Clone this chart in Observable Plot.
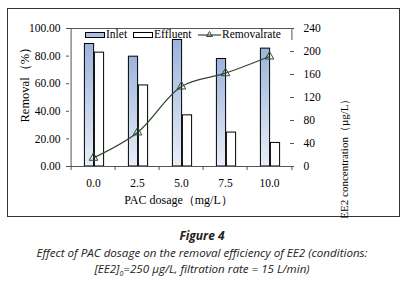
<!DOCTYPE html>
<html>
<head>
<meta charset="utf-8">
<script src="https://cdn.jsdelivr.net/npm/d3@7"></script>
<script src="https://cdn.jsdelivr.net/npm/@observablehq/plot@0.6"></script>
<style>
  html, body { margin: 0; padding: 0; background: #fff; }
  #wrap { position: relative; width: 404px; height: 289px; }
  #box { position: absolute; left: 7px; top: 8px; width: 393px; height: 209px; border: 1px solid #333; box-sizing: border-box; }
  #chart { position: absolute; left: 0; top: 0; }
  .legend { position: absolute; top: 28px; height: 12px; font-family: "Liberation Serif", serif; font-size: 11.5px; line-height: 12px; color: #000; white-space: nowrap; }
  .caption { position: absolute; left: 0; width: 404px; text-align: center; font-family: "Open Sans", sans-serif; font-style: italic; color: #222; white-space: nowrap; }
</style>
</head>
<body>
<div id="wrap">
  <div id="box"></div>
  <div id="chart"></div>
  <div class="caption" style="top:228px;font-size:12px;line-height:16px;font-weight:700;">Figure 4</div>
  <div class="caption" style="top:244.5px;font-size:11.6px;line-height:15px;">Effect of PAC dosage on the removal efficiency of EE2 (conditions:</div>
  <div class="caption" style="top:260.5px;font-size:11.6px;line-height:15px;">[EE2]<sub style="font-size:7px;line-height:0;">0</sub>=250 µg/L, filtration rate = 15 L/min)</div>
</div>
<script>
// ---- data ----
const doses = ["0.0", "2.5", "5.0", "7.5", "10.0"];
const inlet = [213, 191, 220, 187, 205];      // µg/L (right axis)
const effluent = [198, 141, 89, 59, 41];       // µg/L (right axis)
const removal = [6.3, 24.7, 58, 67.6, 79.7];  // % (left axis)
const leftTicks = [0, 20, 40, 60, 80, 100];
const rightTicks = [0, 40, 80, 120, 160, 200, 240];
const seriesNames = ["Inlet", "Effluent", "Removalrate"];

const rows = doses.map((d, i) => ({dose: d, inlet: inlet[i], effluent: effluent[i], removal: removal[i]}));
const k = 240 / 100; // right axis units per left axis unit

const lineColor = "#2f4a2f";
const serif = "Liberation Serif, Times New Roman, serif";

const defs = () => {
  const ns = "http://www.w3.org/2000/svg";
  const d = document.createElementNS(ns, "defs");
  d.innerHTML = `<linearGradient id="blueGrad" x1="0" y1="0" x2="0" y2="1">
      <stop offset="0" stop-color="#9cb3dc"/>
      <stop offset="1" stop-color="#e9eef8"/>
    </linearGradient>`;
  return d;
};

const half = 22.4;

const plot = Plot.plot({
  width: 404,
  height: 220,
  marginLeft: 69,
  marginRight: 111,
  marginTop: 28,
  marginBottom: 54,
  style: {fontFamily: serif, fontSize: "11.5px", color: "#000", background: "transparent"},
  x: {type: "band", domain: doses, padding: 0, label: null},
  y: {domain: [0, 100], label: null},
  marks: [
    defs,
    Plot.barY(rows, {x: "dose", y: d => d.inlet / k, fill: "url(#blueGrad)", stroke: "#000", strokeWidth: 1, insetLeft: half - 9, insetRight: half - 1}),
    Plot.barY(rows, {x: "dose", y: d => d.effluent / k, fill: "#fff", stroke: "#000", strokeWidth: 1, insetLeft: half + 1, insetRight: half - 11}),
    Plot.ruleY([0], {stroke: "#555"}),
    Plot.ruleY([100], {stroke: "#555"}),
    Plot.ruleX([doses[0]], {dx: -half, y1: 0, y2: 100, stroke: "#555"}),
    Plot.ruleX([doses[doses.length - 1]], {dx: half, y1: 100, y2: 100, insetBottom: -12, stroke: "#555"}),
    Plot.ruleX(doses, {dx: -half, y1: 0, y2: 0, insetBottom: -4, stroke: "#555"}),
    Plot.ruleX([doses[doses.length - 1]], {dx: half, y1: 0, y2: 0, insetBottom: -4, stroke: "#555"}),
    Plot.line(rows, {x: "dose", y: "removal", curve: "catmull-rom", stroke: lineColor, strokeWidth: 1.3}),
    Plot.dot(rows, {x: "dose", y: "removal", symbol: "triangle", r: 3.2, stroke: lineColor, fill: "none", strokeWidth: 1}),
    Plot.axisY(leftTicks, {anchor: "left", tickSize: 3, tickPadding: 6, tickFormat: d3.format(".2f"), label: null, stroke: "#555"}),
    Plot.axisY(rightTicks.map(v => v / k), {anchor: "right", tickSize: 4, dx: -4, tickPadding: 10, tickFormat: v => String(Math.round(v * k)), label: null, stroke: "#555"}),
    Plot.axisX({anchor: "bottom", tickSize: 0, tickPadding: 12, label: null}),
    Plot.text(["PAC dosage（mg/L）"], {frameAnchor: "bottom", dy: 37, dx: -3, fontSize: 12}),
    Plot.text(["Removal（%）"], {frameAnchor: "left", rotate: -90, dx: -45, dy: 25, fontSize: 12.5}),
    Plot.text(["EE2 concentration（µg/L）"], {frameAnchor: "right", rotate: -90, dx: 51, dy: -4, fontSize: 11})
  ]
});
document.getElementById("chart").appendChild(plot);

// legend inside the plot area
const wrap = document.getElementById("wrap");
const legendItems = [
  {x: 85, label: seriesNames[0], type: "inlet"},
  {x: 133, label: seriesNames[1], type: "eff"},
  {x: 198, label: seriesNames[2], type: "line"}
];
legendItems.forEach(it => {
  const el = document.createElement("div");
  el.className = "legend";
  el.style.left = it.x + "px";
  let sw;
  if (it.type === "inlet") sw = `<svg width="21" height="12" style="vertical-align:top"><rect x="0.5" y="4.5" width="19" height="5" fill="#aabfe3" stroke="#000"/></svg>`;
  else if (it.type === "eff") sw = `<svg width="21" height="12" style="vertical-align:top"><rect x="0.5" y="4.5" width="19" height="5" fill="#fff" stroke="#000"/></svg>`;
  else sw = `<svg width="24" height="12" style="vertical-align:top"><line x1="0" y1="7" x2="23" y2="7" stroke="${lineColor}" stroke-width="1.2"/><path d="M11.5,3.5 L14.5,8.5 L8.5,8.5 Z" fill="none" stroke="${lineColor}"/></svg>`;
  el.innerHTML = sw + `<span style="vertical-align:top">${it.label}</span>`;
  wrap.appendChild(el);
});
</script>
</body>
</html>
